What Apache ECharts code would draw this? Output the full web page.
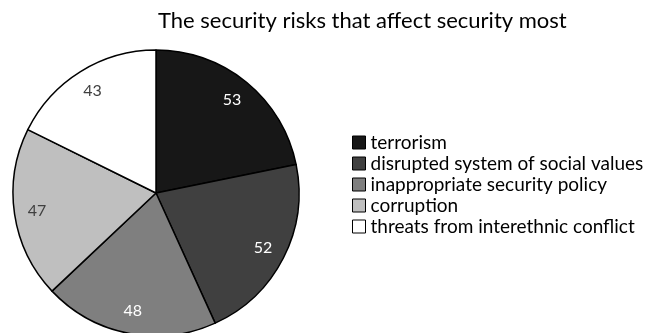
<!DOCTYPE html>
<html>
<head>
<meta charset="utf-8">
<script src="https://cdn.jsdelivr.net/npm/echarts@6/dist/echarts.min.js"></script>
<style>
  html, body { margin: 0; padding: 0; background: #fff; }
  #chart { width: 652px; height: 333px; }
</style>
</head>
<body>
<div id="chart"></div>
<script>
// 数据
const categories = [
  'terrorism',
  'disrupted system of social values',
  'inappropriate security policy',
  'corruption',
  'threats from interethnic conflict',
]
const values = [53, 52, 48, 47, 43]
const sliceColors = ['#171717', '#404040', '#7f7f7f', '#bfbfbf', '#ffffff']
const labelColors = ['#ffffff', '#ffffff', '#ffffff', '#404040', '#404040']

const chart = echarts.init(document.getElementById('chart'))

const pieData = categories.map((name, i) => ({
  name,
  value: values[i],
  itemStyle: { color: sliceColors[i] },
}))

const labelData = categories.map((name, i) => ({
  name,
  value: values[i],
  label: { color: labelColors[i] },
}))

const center = [156, 193]
const R = 143

const option = {
  animation: false,
  title: {
    text: 'The security risks that affect security most',
    left: 153,
    top: 5,
    textStyle: {
      fontFamily: 'Lato',
      fontSize: 22,
      fontWeight: 'normal',
      color: '#000',
    },
  },
  legend: {
    orient: 'vertical',
    left: 347,
    top: 128,
    itemWidth: 13,
    itemHeight: 13,
    itemGap: 2,
    icon: 'rect',
    itemStyle: { borderColor: '#000', borderWidth: 1 },
    textStyle: { fontFamily: 'Lato', fontSize: 19, color: '#000' },
    data: categories,
  },
  series: [
    {
      type: 'pie',
      center,
      radius: [0, R],
      startAngle: 90,
      clockwise: true,
      label: { show: false },
      labelLine: { show: false },
      itemStyle: { borderColor: '#000', borderWidth: 1.5 },
      emphasis: { disabled: true },
      data: pieData,
    },
    {
      // 只用于放置标签（靠外侧）
      type: 'pie',
      center,
      radius: [R * 0.64, R],
      startAngle: 90,
      clockwise: true,
      silent: true,
      itemStyle: { color: 'rgba(0,0,0,0)', borderWidth: 0 },
      label: {
        show: true,
        position: 'inside',
        formatter: '{c}',
        fontFamily: 'Lato',
        fontSize: 16,
      },
      labelLine: { show: false },
      emphasis: { disabled: true },
      data: labelData,
    },
  ],
}

chart.setOption(option)
</script>
</body>
</html>
